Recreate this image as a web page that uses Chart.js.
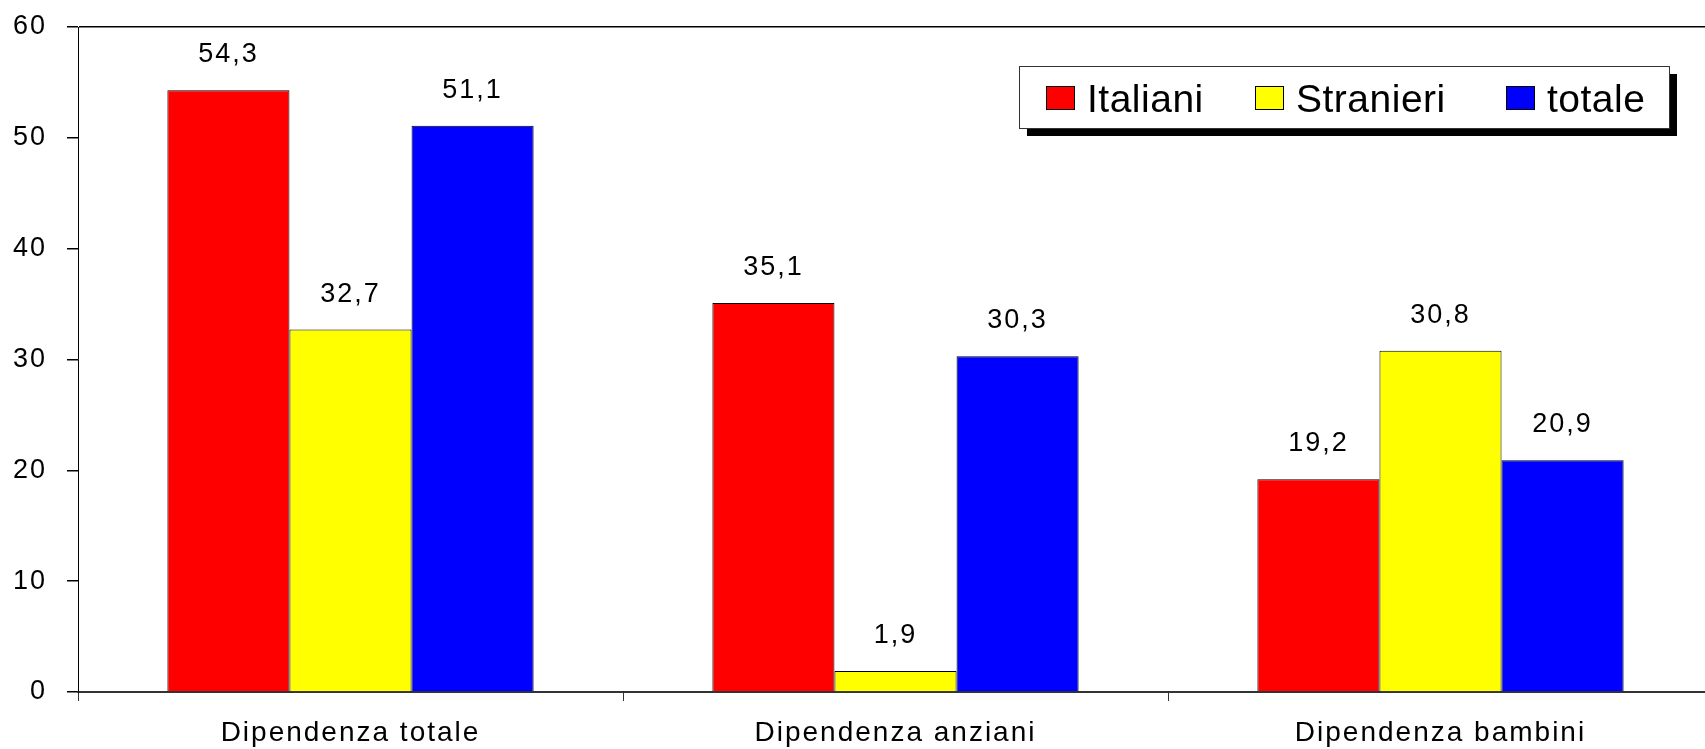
<!DOCTYPE html>
<html>
<head>
<meta charset="utf-8">
<script src="https://cdn.jsdelivr.net/npm/chart.js@4/dist/chart.umd.min.js"></script>
<style>
  body { margin: 0; background: #fff; overflow: hidden; }
  #wrap { width: 1713px; height: 749px; position: relative; }
</style>
</head>
<body>
<div id="wrap"><canvas id="c"></canvas></div>
<script>
// data
var categorie = ['Dipendenza totale', 'Dipendenza anziani', 'Dipendenza bambini'];
var italiani = [54.3, 35.1, 19.2];
var stranieri = [32.7, 1.9, 30.8];
var totale = [51.1, 30.3, 20.9];
var nomiSerie = ['Italiani', 'Stranieri', 'totale'];
var coloriSerie = ['#ff0000', '#ffff00', '#0000ff'];
var tickY = [0, 10, 20, 30, 40, 50, 60];

var FONT = "'Liberation Sans', Arial, sans-serif";

function virgola(v) {
    return v.toFixed(1).replace('.', ',');
}

// wider letter spacing like the original export
var spaziatura = {
    id: 'spaziatura',
    beforeDraw: function (chart) {
        chart.ctx.letterSpacing = '2px';
    },
    afterDraw: function (chart) {
        chart.ctx.letterSpacing = '0px';
    }
};

// numbers above bars
var etichette = {
    id: 'etichette',
    afterDatasetsDraw: function (chart) {
        var ctx = chart.ctx;
        ctx.save();
        ctx.letterSpacing = '2px';
        ctx.font = '27px ' + FONT;
        ctx.fillStyle = '#000';
        ctx.textAlign = 'center';
        ctx.textBaseline = 'alphabetic';
        chart.data.datasets.forEach(function (ds, i) {
            chart.getDatasetMeta(i).data.forEach(function (bar, j) {
                ctx.fillText(virgola(ds.data[j]), bar.x, bar.y - 28);
            });
        });
        ctx.restore();
    }
};

// boxed legend with drop shadow
var legendaX = [27, 236, 487];
var legenda = {
    id: 'legenda',
    afterDraw: function (chart) {
        var ctx = chart.ctx;
        var x0 = 1019, y0 = 66, w = 650, h = 62;
        ctx.save();
        ctx.letterSpacing = '0.5px';
        ctx.fillStyle = '#000';
        ctx.fillRect(x0 + 8, y0 + 8, w, h);
        ctx.fillStyle = '#fff';
        ctx.fillRect(x0, y0, w, h);
        ctx.strokeStyle = '#333';
        ctx.lineWidth = 1;
        ctx.strokeRect(x0 + 0.5, y0 + 0.5, w, h);
        ctx.font = '39px ' + FONT;
        ctx.textBaseline = 'alphabetic';
        chart.data.datasets.forEach(function (ds, i) {
            var x = x0 + legendaX[i];
            ctx.fillStyle = ds.backgroundColor;
            ctx.fillRect(x, y0 + 20, 28, 23);
            ctx.strokeStyle = '#000';
            ctx.strokeRect(x + 0.5, y0 + 20.5, 28, 23);
            ctx.fillStyle = '#000';
            ctx.fillText(ds.label, x + 41, y0 + 46);
        });
        ctx.restore();
    }
};

var valori = [italiani, stranieri, totale];
var datasets = [];
for (var i = 0; i < valori.length; i += 1) {
    datasets.push({
        label: nomiSerie[i],
        data: valori[i],
        backgroundColor: coloriSerie[i],
        borderColor: '#000',
        borderWidth: 1,
        categoryPercentage: 0.672,
        barPercentage: 1
    });
}

var chart = new Chart(document.getElementById('c'), {
    type: 'bar',
    data: {
        labels: categorie,
        datasets: datasets
    },
    options: {
        responsive: true,
        maintainAspectRatio: false,
        animation: false,
        layout: {
            padding: { left: 0, top: 27, right: 0, bottom: 0 }
        },
        plugins: {
            legend: { display: false },
            tooltip: { enabled: false }
        },
        scales: {
            x: {
                offset: true,
                afterFit: function (scale) { scale.height = 57; },
                grid: {
                    offset: true,
                    drawOnChartArea: false,
                    tickLength: 9,
                    color: '#333'
                },
                border: { color: '#333', width: 2 },
                ticks: {
                    color: '#000',
                    padding: 15,
                    font: { size: 28, family: FONT }
                }
            },
            y: {
                min: 0,
                max: 60,
                afterFit: function (scale) {
                    scale.width = 78;
                    scale.paddingTop = 0;
                    scale.paddingBottom = 0;
                },
                afterBuildTicks: function (scale) {
                    scale.ticks = tickY.map(function (v) { return { value: v }; });
                },
                grid: {
                    drawOnChartArea: true,
                    tickLength: 11,
                    color: function (c) {
                        return c.tick && c.tick.value === 60 ? '#000' : 'rgba(0,0,0,0)';
                    },
                    tickColor: '#000',
                    lineWidth: 1.5
                },
                border: { color: '#000', width: 1 },
                ticks: {
                    color: '#000',
                    padding: 20,
                    font: { size: 27, family: FONT }
                }
            }
        }
    },
    plugins: [spaziatura, etichette, legenda]
});
</script>
</body>
</html>
